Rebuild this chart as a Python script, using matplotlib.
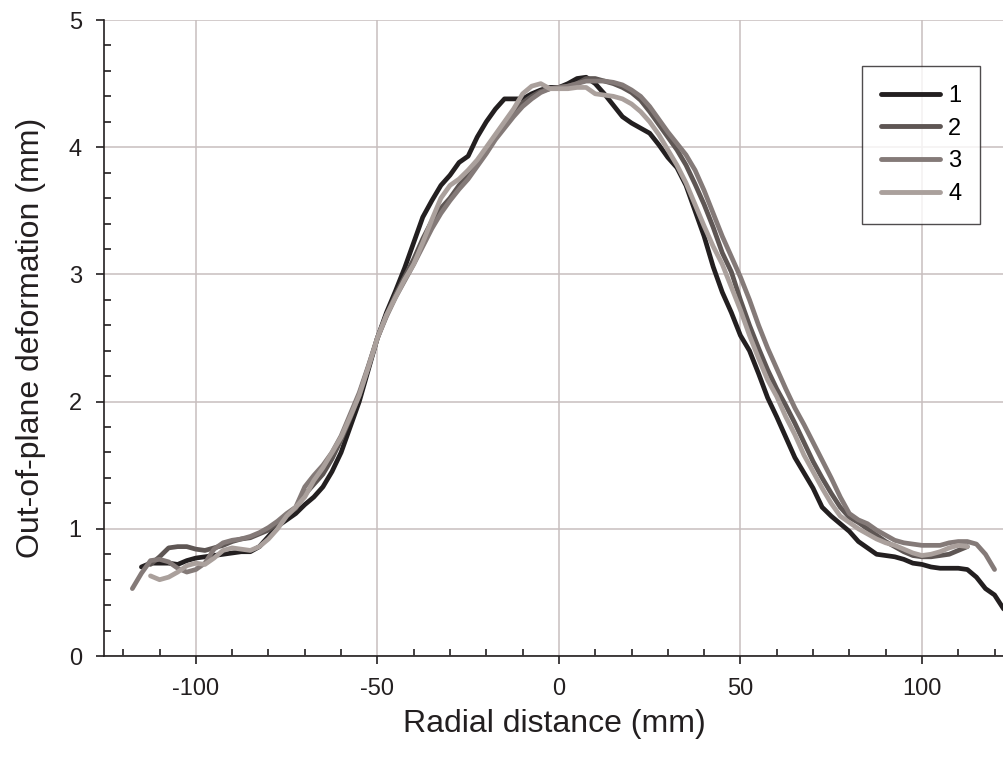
import matplotlib
matplotlib.use("Agg")
import matplotlib.pyplot as plt
import numpy as np
from matplotlib.ticker import MultipleLocator

plt.rcParams["font.family"] = ["Liberation Sans", "DejaVu Sans"]
plt.rcParams["axes.unicode_minus"] = False

# radial positions (mm), 2.5 mm sampling
radial_mm = np.arange(-117.5, 123.0, 2.5)
nan = np.nan

# out-of-plane deformation (mm) for each run
run_1 = [
    nan, 0.70, 0.73, 0.73, 0.73, 0.72, 0.75, 0.77, 0.78, 0.79, 0.80, 0.81, 0.82, 0.82,
    0.86, 0.94, 1.02, 1.07, 1.12, 1.19, 1.25, 1.33, 1.45, 1.60, 1.80, 2.00, 2.25, 2.50,
    2.70, 2.87, 3.05, 3.25, 3.45, 3.58, 3.70, 3.78, 3.88, 3.93, 4.08, 4.20, 4.30, 4.38,
    4.38, 4.38, 4.42, 4.45, 4.47, 4.47, 4.50, 4.54, 4.55, 4.50, 4.42, 4.33, 4.24, 4.19,
    4.15, 4.11, 4.02, 3.92, 3.84, 3.70, 3.50, 3.30, 3.06, 2.86, 2.70, 2.52, 2.40, 2.22,
    2.03, 1.88, 1.72, 1.56, 1.44, 1.32, 1.17, 1.10, 1.04, 0.98, 0.90, 0.85, 0.80, 0.79,
    0.78, 0.76, 0.73, 0.72, 0.70, 0.69, 0.69, 0.69, 0.68, 0.62, 0.53, 0.48, 0.37,
]
run_2 = [
    nan, nan, 0.72, 0.78, 0.85, 0.86, 0.86, 0.84, 0.83, 0.85, 0.87, 0.90, 0.92, 0.93,
    0.96, 0.99, 1.05, 1.11, 1.16, 1.27, 1.35, 1.43, 1.55, 1.70, 1.87, 2.05, 2.27, 2.50,
    2.68, 2.84, 2.98, 3.12, 3.28, 3.42, 3.52, 3.60, 3.70, 3.78, 3.88, 3.98, 4.08, 4.18,
    4.27, 4.35, 4.40, 4.44, 4.46, 4.47, 4.48, 4.50, 4.54, 4.54, 4.52, 4.50, 4.47, 4.43,
    4.37, 4.28, 4.18, 4.08, 3.98, 3.86, 3.71, 3.55, 3.37, 3.17, 3.02, 2.80, 2.60, 2.42,
    2.25, 2.10, 1.97, 1.83, 1.68, 1.53, 1.40, 1.28, 1.17, 1.09, 1.05, 1.00, 0.95, 0.90,
    0.86, 0.82, 0.79, 0.78, 0.78, 0.79, 0.80, 0.83, 0.86, nan, nan, nan, nan,
]
run_3 = [
    0.53, 0.65, 0.75, 0.76, 0.74, 0.69, 0.66, 0.68, 0.73, 0.84, 0.89, 0.91, 0.92, 0.94,
    0.97, 1.01, 1.06, 1.12, 1.17, 1.33, 1.42, 1.50, 1.60, 1.73, 1.90, 2.07, 2.28, 2.50,
    2.67, 2.82, 2.95, 3.08, 3.22, 3.36, 3.48, 3.58, 3.67, 3.75, 3.85, 3.95, 4.06, 4.15,
    4.24, 4.32, 4.38, 4.43, 4.46, 4.47, 4.48, 4.50, 4.52, 4.52, 4.52, 4.51, 4.49, 4.45,
    4.40, 4.32, 4.22, 4.12, 4.03, 3.94, 3.82, 3.66, 3.48, 3.30, 3.14, 2.98, 2.80, 2.60,
    2.42, 2.26, 2.10, 1.95, 1.82, 1.68, 1.54, 1.40, 1.25, 1.12, 1.07, 1.04, 0.99, 0.95,
    0.91, 0.89, 0.88, 0.87, 0.87, 0.87, 0.89, 0.90, 0.90, 0.88, 0.80, 0.68, nan,
]
run_4 = [
    nan, nan, 0.63, 0.60, 0.62, 0.66, 0.71, 0.73, 0.72, 0.77, 0.83, 0.85, 0.84, 0.83,
    0.86, 0.92, 1.00, 1.10, 1.17, 1.25, 1.38, 1.48, 1.60, 1.72, 1.88, 2.05, 2.27, 2.50,
    2.68, 2.82, 2.96, 3.08, 3.25, 3.43, 3.60, 3.70, 3.75, 3.82, 3.90, 4.00, 4.10, 4.20,
    4.30, 4.42, 4.48, 4.50, 4.46, 4.46, 4.46, 4.47, 4.47, 4.42, 4.41, 4.40, 4.38, 4.34,
    4.28, 4.20, 4.10, 3.98, 3.86, 3.72, 3.55, 3.38, 3.22, 3.08, 2.90, 2.72, 2.52, 2.34,
    2.17, 2.04, 1.88, 1.74, 1.58, 1.45, 1.32, 1.20, 1.10, 1.05, 1.00, 0.96, 0.92, 0.89,
    0.87, 0.84, 0.81, 0.79, 0.80, 0.82, 0.85, 0.87, 0.86, nan, nan, nan, nan,
]

run_labels = ["1", "2", "3", "4"]
run_colors = ["#231f20", "#5e5654", "#847a78", "#aaa09c"]

INK = "#231f20"


def main() -> None:
    fig = plt.figure(figsize=(10.04, 7.67), dpi=100)
    ax = fig.add_axes([0.1036, 0.1447, 0.8964, 0.8292])

    for values, label, color in zip([run_1, run_2, run_3, run_4], run_labels, run_colors):
        ax.plot(radial_mm, values, color=color, lw=3.4, label=label,
                solid_capstyle="round", solid_joinstyle="round")

    ax.set_xlim(-125.3, 122.6)
    ax.set_ylim(0, 5)
    ax.xaxis.set_major_locator(MultipleLocator(50))
    ax.xaxis.set_minor_locator(MultipleLocator(10))
    ax.yaxis.set_major_locator(MultipleLocator(1))
    ax.yaxis.set_minor_locator(MultipleLocator(0.2))

    ax.grid(True, which="major", color="#c8bebe", lw=1.1)
    ax.set_axisbelow(True)

    for side in ("top", "right"):
        ax.spines[side].set_visible(False)
    for side in ("left", "bottom"):
        ax.spines[side].set_color(INK)
        ax.spines[side].set_linewidth(1.2)

    ax.tick_params(which="major", direction="out", length=6, width=1.2,
                   color=INK, labelsize=17, labelcolor=INK)
    ax.tick_params(axis="y", which="major", pad=10)
    ax.tick_params(axis="x", which="major", pad=10)
    ax.tick_params(which="minor", direction="in", length=5, width=1.2, color=INK)

    ax.set_xlabel("Radial distance (mm)", fontsize=23, color=INK, labelpad=6)
    ax.set_ylabel("Out-of-plane deformation (mm)", fontsize=23, color=INK, labelpad=16)

    leg = ax.legend(loc="upper left", bbox_to_anchor=(862 / 1004, 1 - 66 / 767),
                    bbox_transform=fig.transFigure, fontsize=17, frameon=True,
                    fancybox=False, handlelength=2.5, handletextpad=0.35,
                    labelspacing=0.45, borderpad=0.8, borderaxespad=0)
    leg.get_frame().set_edgecolor(INK)
    leg.get_frame().set_linewidth(1.0)
    for line in leg.get_lines():
        line.set_linewidth(3.5)

    fig.savefig("out.png", dpi=100)
    plt.close(fig)


if __name__ == "__main__":
    main()
